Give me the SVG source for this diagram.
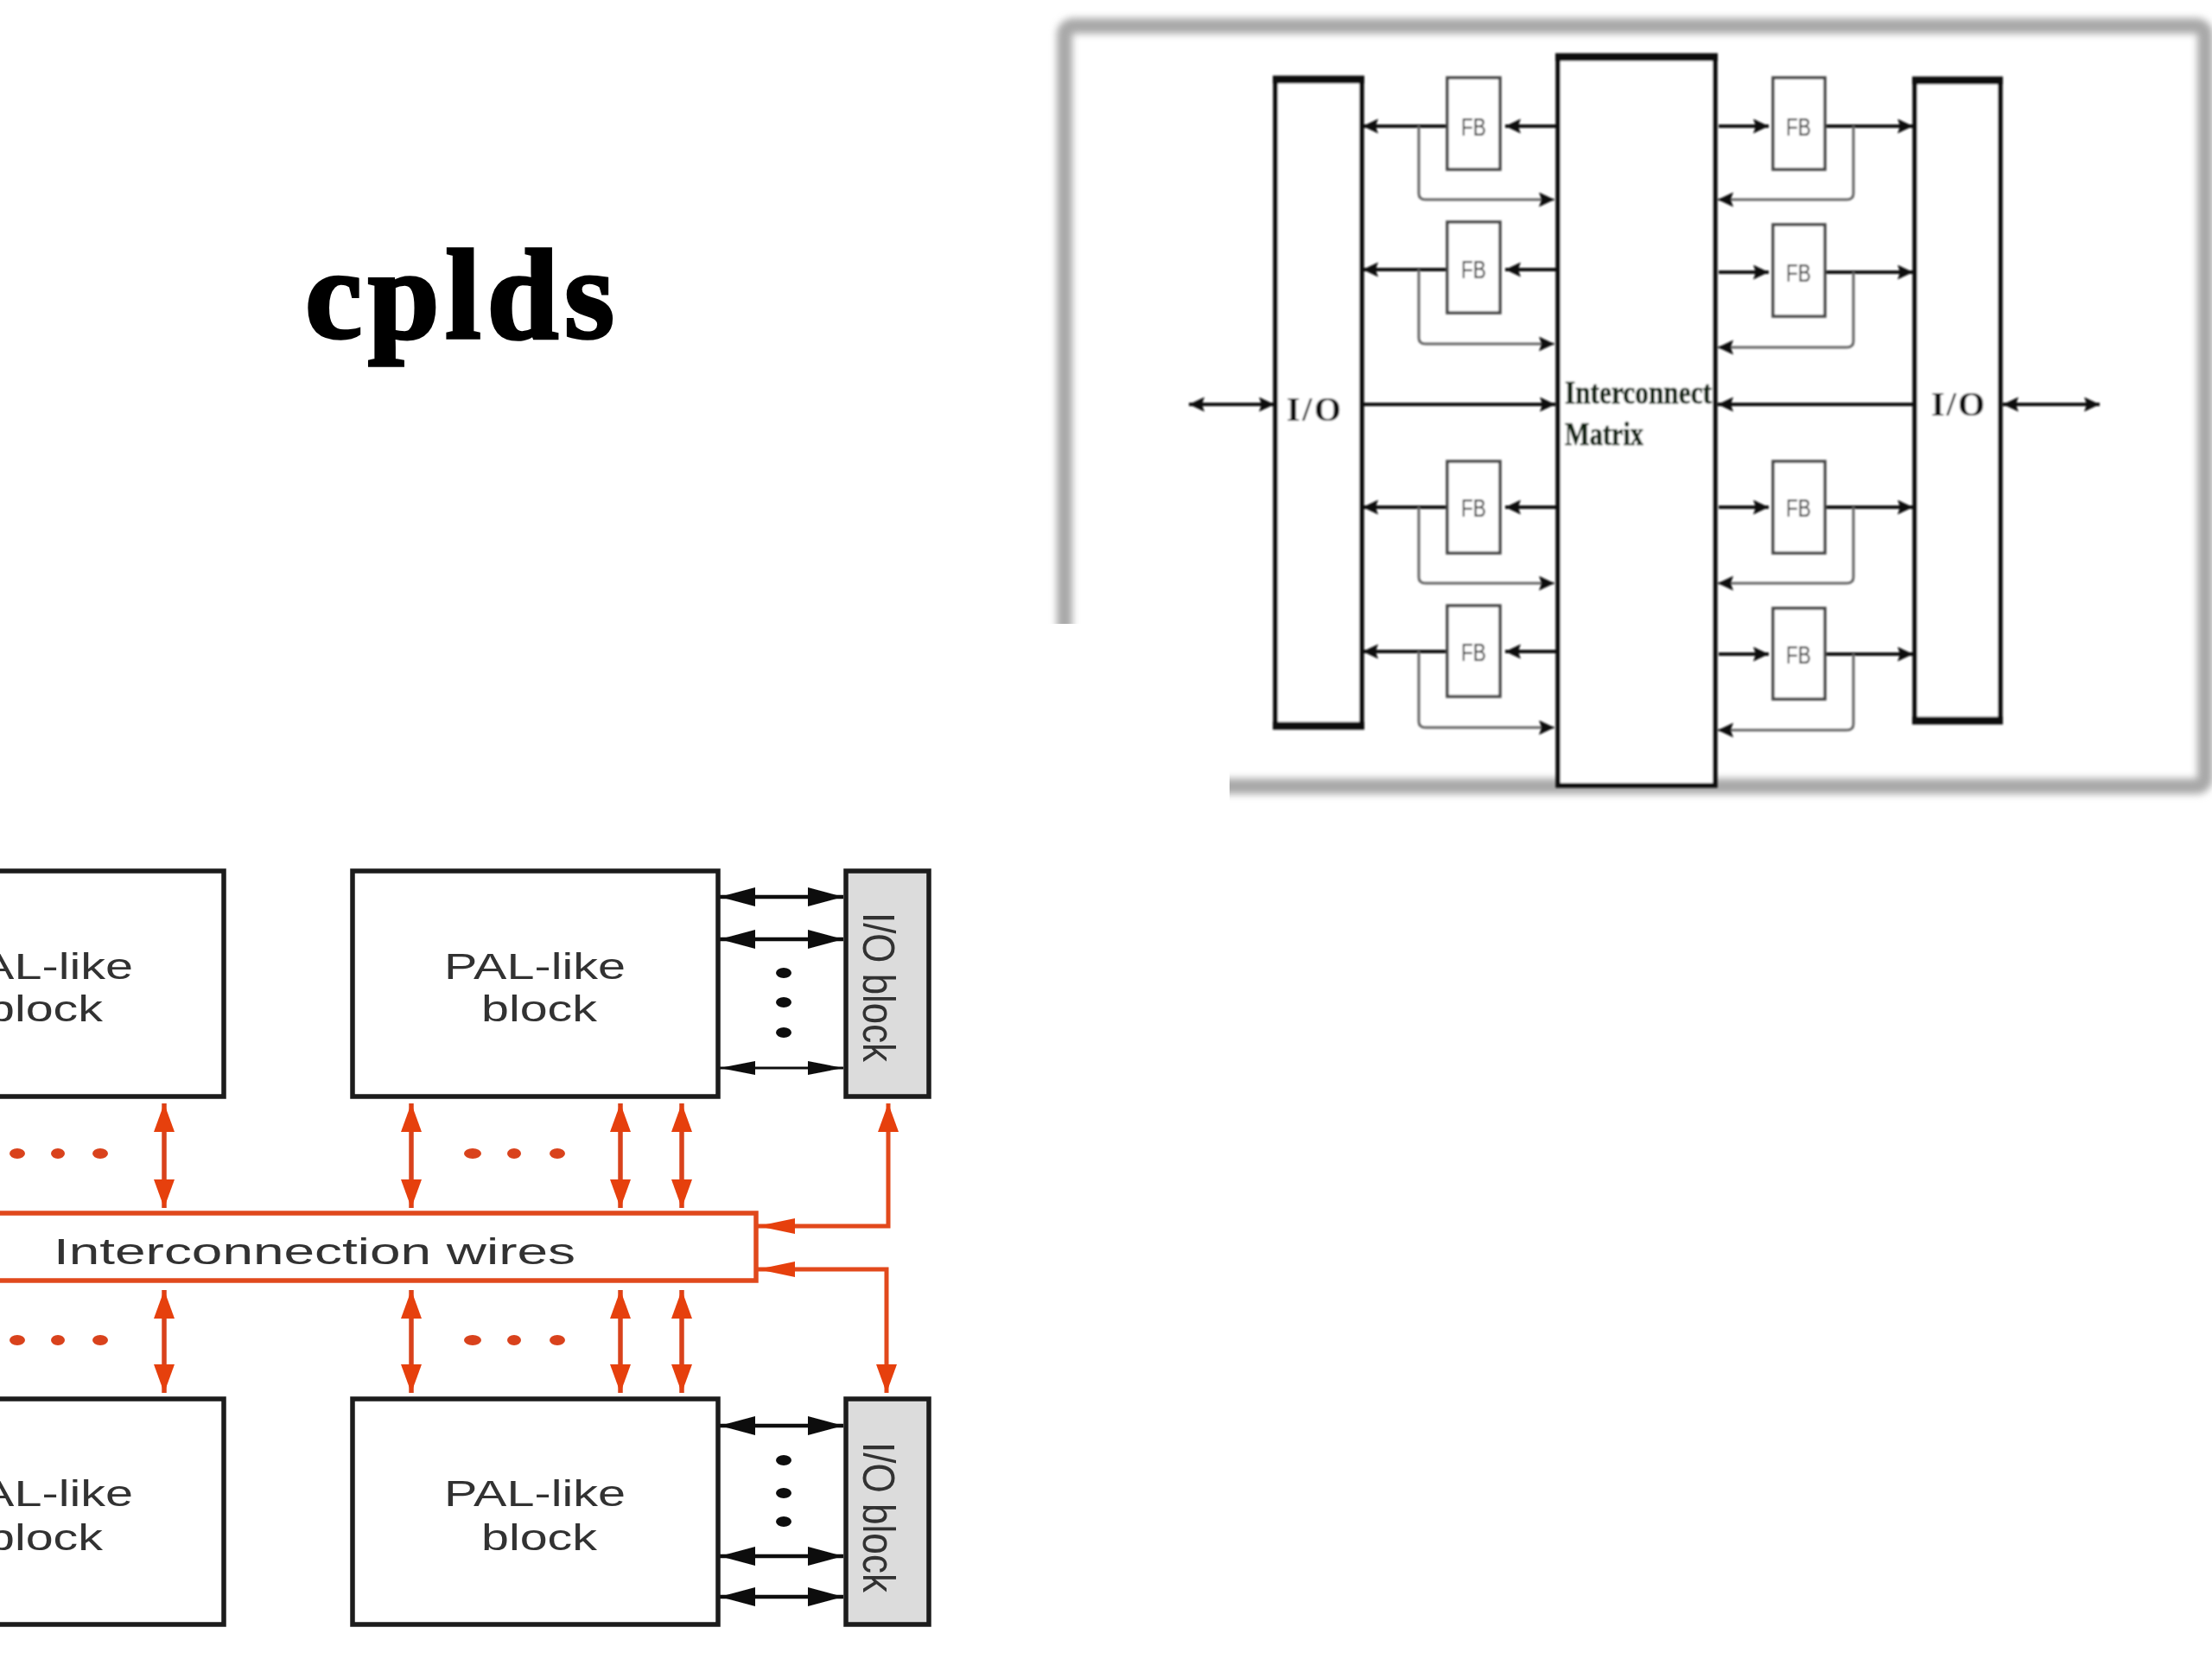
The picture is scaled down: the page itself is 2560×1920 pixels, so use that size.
<svg xmlns="http://www.w3.org/2000/svg" width="2560" height="1920" viewBox="0 0 2560 1920">
<style>
.big{fill:#fff;stroke:#111;stroke-width:5.5}
.fb{fill:#fff;stroke:#444;stroke-width:3.5}
.k{fill:none;stroke:#111;stroke-width:4;marker-end:url(#a)}
.k2{fill:none;stroke:#111;stroke-width:4;marker-start:url(#a);marker-end:url(#a)}
.g{fill:none;stroke:#666;stroke-width:3;marker-end:url(#a)}
.pal{fill:#fff;stroke:#1a1a1a;stroke-width:5.5}
.io{fill:#dcdcdc;stroke:#1a1a1a;stroke-width:5.5}
.b2{fill:none;stroke:#111;stroke-width:4.5;marker-start:url(#bh);marker-end:url(#bh)}
.b3{fill:none;stroke:#111;stroke-width:3;marker-start:url(#bh2);marker-end:url(#bh2)}
.o2{fill:none;stroke:#d9431c;stroke-width:5.5;marker-start:url(#oh);marker-end:url(#oh)}
.o4{fill:none;stroke:#e2481c;stroke-width:5;marker-start:url(#ohl);marker-end:url(#oh)}
.dot{fill:#111}
.odot{fill:#d9431c}
text{font-family:"Liberation Sans",Arial,sans-serif}
.s{font-family:"Liberation Serif","Times New Roman",serif;fill:#111}
.lab{font-size:43px;fill:#333}
.fbt{font-size:29px;fill:#333}
</style>
<defs>
<marker id="a" markerUnits="userSpaceOnUse" markerWidth="19" markerHeight="18" refX="18" refY="8.5" orient="auto-start-reverse"><path d="M0,0L18,8.5L0,17L3,8.5z" fill="#111"/></marker>
<marker id="bh" markerUnits="userSpaceOnUse" markerWidth="42" markerHeight="24" refX="41" refY="12" orient="auto-start-reverse"><path d="M0,1L41,12L0,23z" fill="#111"/></marker>
<marker id="bh2" markerUnits="userSpaceOnUse" markerWidth="42" markerHeight="18" refX="41" refY="9" orient="auto-start-reverse"><path d="M0,1L41,9L0,17z" fill="#111"/></marker>
<marker id="oh" markerUnits="userSpaceOnUse" markerWidth="34" markerHeight="26" refX="33" refY="13" orient="auto-start-reverse"><path d="M0,1L33,13L0,25z" fill="#e63f10"/></marker>
<marker id="ohl" markerUnits="userSpaceOnUse" markerWidth="44" markerHeight="20" refX="43" refY="10" orient="auto-start-reverse"><path d="M0,1L43,10L0,19z" fill="#e63f10"/></marker>
<filter id="soft" x="-20%" y="-20%" width="140%" height="140%"><feGaussianBlur stdDeviation="4.5"/></filter>
<filter id="s1" x="-2%" y="-2%" width="104%" height="104%"><feGaussianBlur stdDeviation="0.9"/></filter>
<filter id="s2" x="-2%" y="-2%" width="104%" height="104%"><feGaussianBlur stdDeviation="0.6"/></filter>
</defs>
<rect width="2560" height="1920" fill="#fff"/>
<rect id="frame" x="1232" y="30" width="1320" height="880" rx="10" fill="none" stroke="#a8a8a8" stroke-width="18" filter="url(#soft)"/>
<rect id="frame-mask" x="0" y="722" width="1423" height="260" fill="#fff"/>
<text id="title" class="s" x="353" y="391" font-size="149" font-weight="700" textLength="358" lengthAdjust="spacing" stroke="#000" stroke-width="3.5" style="fill:#000">cplds</text>

<g id="cpld-top" filter="url(#s1)">
<g id="connectors-top">
<path class="k" d="M1675,146H1577"/><path class="k" d="M1803,146H1742"/>
<path class="k" d="M1675,312H1577"/><path class="k" d="M1803,312H1742"/>
<path class="k" d="M1675,587H1577"/><path class="k" d="M1803,587H1742"/>
<path class="k" d="M1675,754H1577"/><path class="k" d="M1803,754H1742"/>
<path class="k" d="M1989,146H2047"/><path class="k" d="M2112,146H2214"/>
<path class="k" d="M1989,315H2047"/><path class="k" d="M2112,315H2214"/>
<path class="k" d="M1989,587H2047"/><path class="k" d="M2112,587H2214"/>
<path class="k" d="M1989,757H2047"/><path class="k" d="M2112,757H2214"/>
<path class="g" d="M1642,146V224Q1642,231 1650,231H1799"/>
<path class="g" d="M1642,312V391Q1642,398 1650,398H1799"/>
<path class="g" d="M1642,587V668Q1642,675 1650,675H1799"/>
<path class="g" d="M1642,754V835Q1642,842 1650,842H1799"/>
<path class="g" d="M2145,146V224Q2145,231 2137,231H1988"/>
<path class="g" d="M2145,315V395Q2145,402 2137,402H1988"/>
<path class="g" d="M2145,587V668Q2145,675 2137,675H1988"/>
<path class="g" d="M2145,757V838Q2145,845 2137,845H1988"/>
<path class="k" d="M1577,468H1800"/><path class="k" d="M2216,468H1988"/>
<path class="k2" d="M1376,468H1475"/><path class="k2" d="M2318,468H2430"/>
</g>
<g id="io-left"><rect class="big" x="1476" y="91" width="100" height="750"/><path d="M1473,92H1579M1473,840H1579" stroke="#111" stroke-width="9"/><text class="s" x="1489" y="487" font-size="40" font-weight="700" textLength="63" lengthAdjust="spacing">I / O</text></g>
<g id="matrix"><rect class="big" x="1803" y="66" width="182" height="843"/><path d="M1800,66H1988" stroke="#111" stroke-width="9"/><text class="s" x="1811" y="467" font-size="38" font-weight="700" textLength="170" lengthAdjust="spacingAndGlyphs" stroke="#112211" stroke-width="0.6" style="fill:#112211">Interconnect</text><text class="s" x="1811" y="515" font-size="38" font-weight="700" textLength="91" lengthAdjust="spacingAndGlyphs" stroke="#112211" stroke-width="0.6" style="fill:#112211">Matrix</text></g>
<g id="io-right"><rect class="big" x="2216" y="92" width="99" height="742"/><path d="M2213,93H2318M2213,834H2318" stroke="#111" stroke-width="9"/><text class="s" x="2235" y="481" font-size="40" font-weight="700" textLength="62" lengthAdjust="spacing">I / O</text></g>
<g id="fb-l1"><rect class="fb" x="1675" y="90" width="61" height="106"/><text class="fbt" x="1691" y="157" textLength="29" lengthAdjust="spacingAndGlyphs">FB</text></g>
<g id="fb-l2"><rect class="fb" x="1675" y="257" width="61" height="105"/><text class="fbt" x="1691" y="322" textLength="29" lengthAdjust="spacingAndGlyphs">FB</text></g>
<g id="fb-l3"><rect class="fb" x="1675" y="534" width="61" height="106"/><text class="fbt" x="1691" y="598" textLength="29" lengthAdjust="spacingAndGlyphs">FB</text></g>
<g id="fb-l4"><rect class="fb" x="1675" y="701" width="61" height="105"/><text class="fbt" x="1691" y="765" textLength="29" lengthAdjust="spacingAndGlyphs">FB</text></g>
<g id="fb-r1"><rect class="fb" x="2052" y="90" width="60" height="106"/><text class="fbt" x="2067" y="157" textLength="29" lengthAdjust="spacingAndGlyphs">FB</text></g>
<g id="fb-r2"><rect class="fb" x="2052" y="260" width="60" height="106"/><text class="fbt" x="2067" y="326" textLength="29" lengthAdjust="spacingAndGlyphs">FB</text></g>
<g id="fb-r3"><rect class="fb" x="2052" y="534" width="60" height="106"/><text class="fbt" x="2067" y="598" textLength="29" lengthAdjust="spacingAndGlyphs">FB</text></g>
<g id="fb-r4"><rect class="fb" x="2052" y="704" width="60" height="105"/><text class="fbt" x="2067" y="768" textLength="29" lengthAdjust="spacingAndGlyphs">FB</text></g>
</g>

<g id="pld-bottom" filter="url(#s2)">
<g id="connectors-bottom">
<path class="b2" d="M833,1038H976"/><path class="b2" d="M833,1087H976"/><path class="b3" d="M833,1236H976"/>
<path class="b2" d="M833,1650H976"/><path class="b2" d="M833,1801H976"/><path class="b2" d="M833,1848H976"/>
<path class="o2" d="M190,1277V1398"/><path class="o2" d="M476,1277V1398"/><path class="o2" d="M718,1277V1398"/><path class="o2" d="M789,1277V1398"/>
<path class="o2" d="M190,1493V1612"/><path class="o2" d="M476,1493V1612"/><path class="o2" d="M718,1493V1612"/><path class="o2" d="M789,1493V1612"/>
<path class="o4" d="M877,1419H1028V1277"/>
<path class="o4" d="M877,1469H1026V1612"/>
<g class="dot"><ellipse cx="907" cy="1126" rx="9" ry="6"/><ellipse cx="907" cy="1160" rx="9" ry="6"/><ellipse cx="907" cy="1195" rx="9" ry="6"/><ellipse cx="907" cy="1690" rx="9" ry="6"/><ellipse cx="907" cy="1728" rx="9" ry="6"/><ellipse cx="907" cy="1761" rx="9" ry="6"/></g>
<g class="odot"><ellipse cx="20" cy="1335" rx="9" ry="6"/><ellipse cx="67" cy="1335" rx="8" ry="6"/><ellipse cx="116" cy="1335" rx="9" ry="6"/><ellipse cx="547" cy="1335" rx="10" ry="6"/><ellipse cx="595" cy="1335" rx="8" ry="6"/><ellipse cx="645" cy="1335" rx="9" ry="6"/><ellipse cx="20" cy="1551" rx="9" ry="6"/><ellipse cx="67" cy="1551" rx="8" ry="6"/><ellipse cx="116" cy="1551" rx="9" ry="6"/><ellipse cx="547" cy="1551" rx="10" ry="6"/><ellipse cx="595" cy="1551" rx="8" ry="6"/><ellipse cx="645" cy="1551" rx="9" ry="6"/></g>
</g>
<g id="pal-tl"><rect class="pal" x="-20" y="1008" width="279" height="261"/><text class="lab" x="-56" y="1133" textLength="210" lengthAdjust="spacingAndGlyphs">PAL-like</text><text class="lab" x="-15" y="1182" textLength="134" lengthAdjust="spacingAndGlyphs">block</text></g>
<g id="pal-tr"><rect class="pal" x="408" y="1008" width="423" height="261"/><text class="lab" x="514" y="1133" textLength="210" lengthAdjust="spacingAndGlyphs">PAL-like</text><text class="lab" x="557" y="1182" textLength="134" lengthAdjust="spacingAndGlyphs">block</text></g>
<g id="pal-bl"><rect class="pal" x="-20" y="1619" width="279" height="261"/><text class="lab" x="-56" y="1743" textLength="210" lengthAdjust="spacingAndGlyphs">PAL-like</text><text class="lab" x="-15" y="1794" textLength="134" lengthAdjust="spacingAndGlyphs">block</text></g>
<g id="pal-br"><rect class="pal" x="408" y="1619" width="423" height="261"/><text class="lab" x="514" y="1743" textLength="210" lengthAdjust="spacingAndGlyphs">PAL-like</text><text class="lab" x="557" y="1794" textLength="134" lengthAdjust="spacingAndGlyphs">block</text></g>
<g id="io-top"><rect class="io" x="979" y="1008" width="96" height="261"/><text transform="translate(999,1056) rotate(90)" font-size="52" fill="#333" textLength="173" lengthAdjust="spacingAndGlyphs">I/O block</text></g>
<g id="io-bottom"><rect class="io" x="979" y="1619" width="96" height="261"/><text transform="translate(999,1669) rotate(90)" font-size="52" fill="#333" textLength="174" lengthAdjust="spacingAndGlyphs">I/O block</text></g>
<g id="wires"><rect x="-20" y="1404" width="895" height="78" fill="#fff" stroke="#e0491f" stroke-width="5.5"/><text class="lab" x="62" y="1463" textLength="604" lengthAdjust="spacingAndGlyphs">Interconnection wires</text></g>
</g>
</svg>
